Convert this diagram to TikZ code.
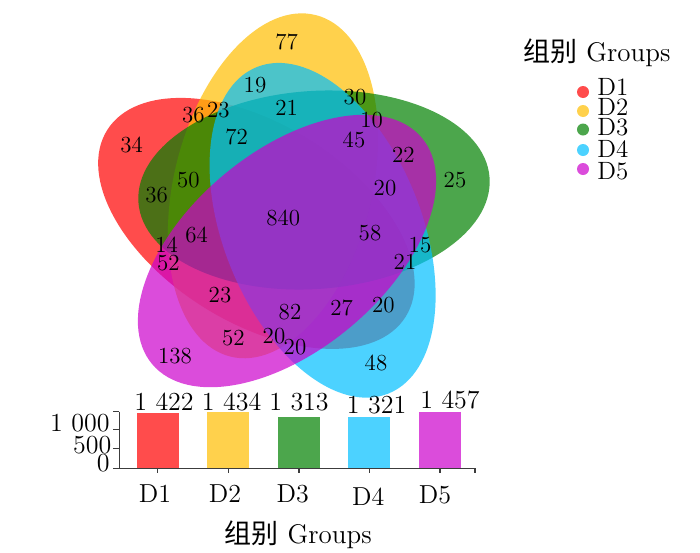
\documentclass[tikz,border=0pt]{standalone}
\usepackage{fontspec}
\newfontfamily\cjkfont{Noto Sans CJK SC}
\usetikzlibrary{positioning}

\definecolor{dOne}{RGB}{255,0,0}
\definecolor{dTwo}{RGB}{255,190,0}
\definecolor{dThree}{RGB}{0,128,0}
\definecolor{dFour}{RGB}{0,191,255}
\definecolor{dFive}{RGB}{204,0,204}
\definecolor{axisgray}{RGB}{60,60,60}

\tikzset{
  petal/.style={fill=#1, fill opacity=0.7},
  cnt/.style={font=\fontsize{11.5}{12}\selectfont, inner sep=0pt},
  barnum/.style={font=\fontsize{13}{14}\selectfont, inner sep=0pt},
  leglab/.style={font=\fontsize{12.5}{13}\selectfont, inner sep=0pt, anchor=west},
  grouptitle/.style={font=\fontsize{13.5}{15}\selectfont, inner sep=0pt},
  axisline/.style={draw=axisgray, line width=0.75pt}
}

\begin{document}
\begin{tikzpicture}[x=0.5pt,y=-0.5pt]
      \useasboundingbox (0,0) rectangle (700,552);
      % venn petals
      \fill [petal=dOne, rotate around={148:(256.4,223.4)}] (256.4,223.4) ellipse [x radius=88pt, y radius=49.5pt];
      \fill [petal=dTwo, rotate around={76:(273,185.8)}] (273,185.8) ellipse [x radius=88pt, y radius=49.5pt];
      \fill [petal=dThree, rotate around={4:(314,190)}] (314,190) ellipse [x radius=88pt, y radius=49.5pt];
      \fill [petal=dFour, rotate around={112:(322.6,230.3)}] (322.6,230.3) ellipse [x radius=88pt, y radius=49.5pt];
      \fill [petal=dFive, rotate around={40:(287,251)}] (287,251) ellipse [x radius=88pt, y radius=49.5pt];
      % counts
      \node [cnt] (n77) at (286.7,41.7) {77};
      \node [cnt] (n19) at (255,85) {19};
      \node [cnt] (n36a) at (193.3,115) {36};
      \node [cnt] (n23a) at (218.3,110) {23};
      \node [cnt] (n21a) at (286.7,108.3) {21};
      \node [cnt] (n30) at (355,96.7) {30};
      \node [cnt] (n10) at (371.7,120) {10};
      \node [cnt] (n72) at (236.7,136.7) {72};
      \node [cnt] (n45) at (354,140) {45};
      \node [cnt] (n34) at (131.7,145) {34};
      \node [cnt] (n22) at (403.3,155) {22};
      \node [cnt] (n50) at (188.3,180) {50};
      \node [cnt] (n20a) at (385,188.3) {20};
      \node [cnt] (n25) at (455,180) {25};
      \node [cnt] (n36b) at (156.7,195) {36};
      \node [cnt] (n840) at (283.3,218.3) {840};
      \node [cnt] (n64) at (196.7,235) {64};
      \node [cnt] (n58) at (370,233.3) {58};
      \node [cnt] (n14) at (166.7,245) {14};
      \node [cnt] (n15) at (420,245) {15};
      \node [cnt] (n52a) at (168.3,263.3) {52};
      \node [cnt] (n21b) at (405,261.7) {21};
      \node [cnt] (n23b) at (220,295) {23};
      \node [cnt] (n82) at (290,311.7) {82};
      \node [cnt] (n27) at (341.7,307.7) {27};
      \node [cnt] (n20b) at (383.3,305) {20};
      \node [cnt] (n52b) at (233.3,338.3) {52};
      \node [cnt] (n20c) at (274,336) {20};
      \node [cnt] (n20d) at (295,346.7) {20};
      \node [cnt] (n138) at (175,356) {138};
      \node [cnt] (n48) at (376,363.3) {48};
      % legend
      \node [grouptitle] (legtitle) at (597,53) {{\cjkfont 组别} Groups};
      \fill [petal=dOne] (583,92) circle [radius=3pt];
      \node [leglab] (legD1) at (597,87) {D1};
      \fill [petal=dTwo] (583,111) circle [radius=3pt];
      \node [leglab] (legD2) at (597,106.5) {D2};
      \fill [petal=dThree] (583,129.5) circle [radius=3pt];
      \node [leglab] (legD3) at (597,127.5) {D3};
      \fill [petal=dFour] (583,150) circle [radius=3pt];
      \node [leglab] (legD4) at (597,148.5) {D4};
      \fill [petal=dFive] (583,169) circle [radius=3pt];
      \node [leglab] (legD5) at (597,171.5) {D5};
      % bar chart of set sizes
      \fill [petal=dOne] (136.7,468.3) rectangle (179.3,412.8);
      \fill [petal=dTwo] (207.3,468.3) rectangle (249.3,412.4);
      \fill [petal=dThree] (277.7,468.3) rectangle (320,417.1);
      \fill [petal=dFour] (348.3,468.3) rectangle (390.3,416.8);
      \fill [petal=dFive] (418.7,468.3) rectangle (461,411.5);
      \node [barnum] (v1) at (164,401.7) {1 422};
      \node [barnum] (v2) at (231.7,401.7) {1 434};
      \node [barnum] (v3) at (299,401.7) {1 313};
      \node [barnum] (v4) at (376.7,405) {1 321};
      \node [barnum] (v5) at (450,400) {1 457};
      \draw [axisline] (119.3,411.7) -- (119.3,468.3) -- (475,468.3);
      \draw [axisline] (113.3,411.7) -- (119.3,411.7);
      \draw [axisline] (113.3,429.3) -- (119.3,429.3);
      \draw [axisline] (113.3,448.3) -- (119.3,448.3);
      \draw [axisline] (113.3,468.3) -- (119.3,468.3);
      \draw [axisline] (157.3,468.3) -- (157.3,473.3);
      \draw [axisline] (228.3,468.3) -- (228.3,473.3);
      \draw [axisline] (299,468.3) -- (299,473.3);
      \draw [axisline] (369.3,468.3) -- (369.3,473.3);
      \draw [axisline] (440,468.3) -- (440,473.3);
      \draw [axisline] (475,468.3) -- (475,473.3);
      \node [barnum, anchor=east] (y1000) at (110,422.7) {1 000};
      \node [barnum, anchor=east] (y500) at (111.7,445) {500};
      \node [barnum, anchor=east] (y0) at (110,463.3) {0};
      \node [barnum] (xD1) at (155,494) {D1};
      \node [barnum] (xD2) at (225,494) {D2};
      \node [barnum] (xD3) at (292.7,494) {D3};
      \node [barnum] (xD4) at (368.3,496.7) {D4};
      \node [barnum] (xD5) at (435,495) {D5};
      \node [grouptitle] (xtitle) at (298.3,535) {{\cjkfont 组别} Groups};
\end{tikzpicture}
\end{document}
